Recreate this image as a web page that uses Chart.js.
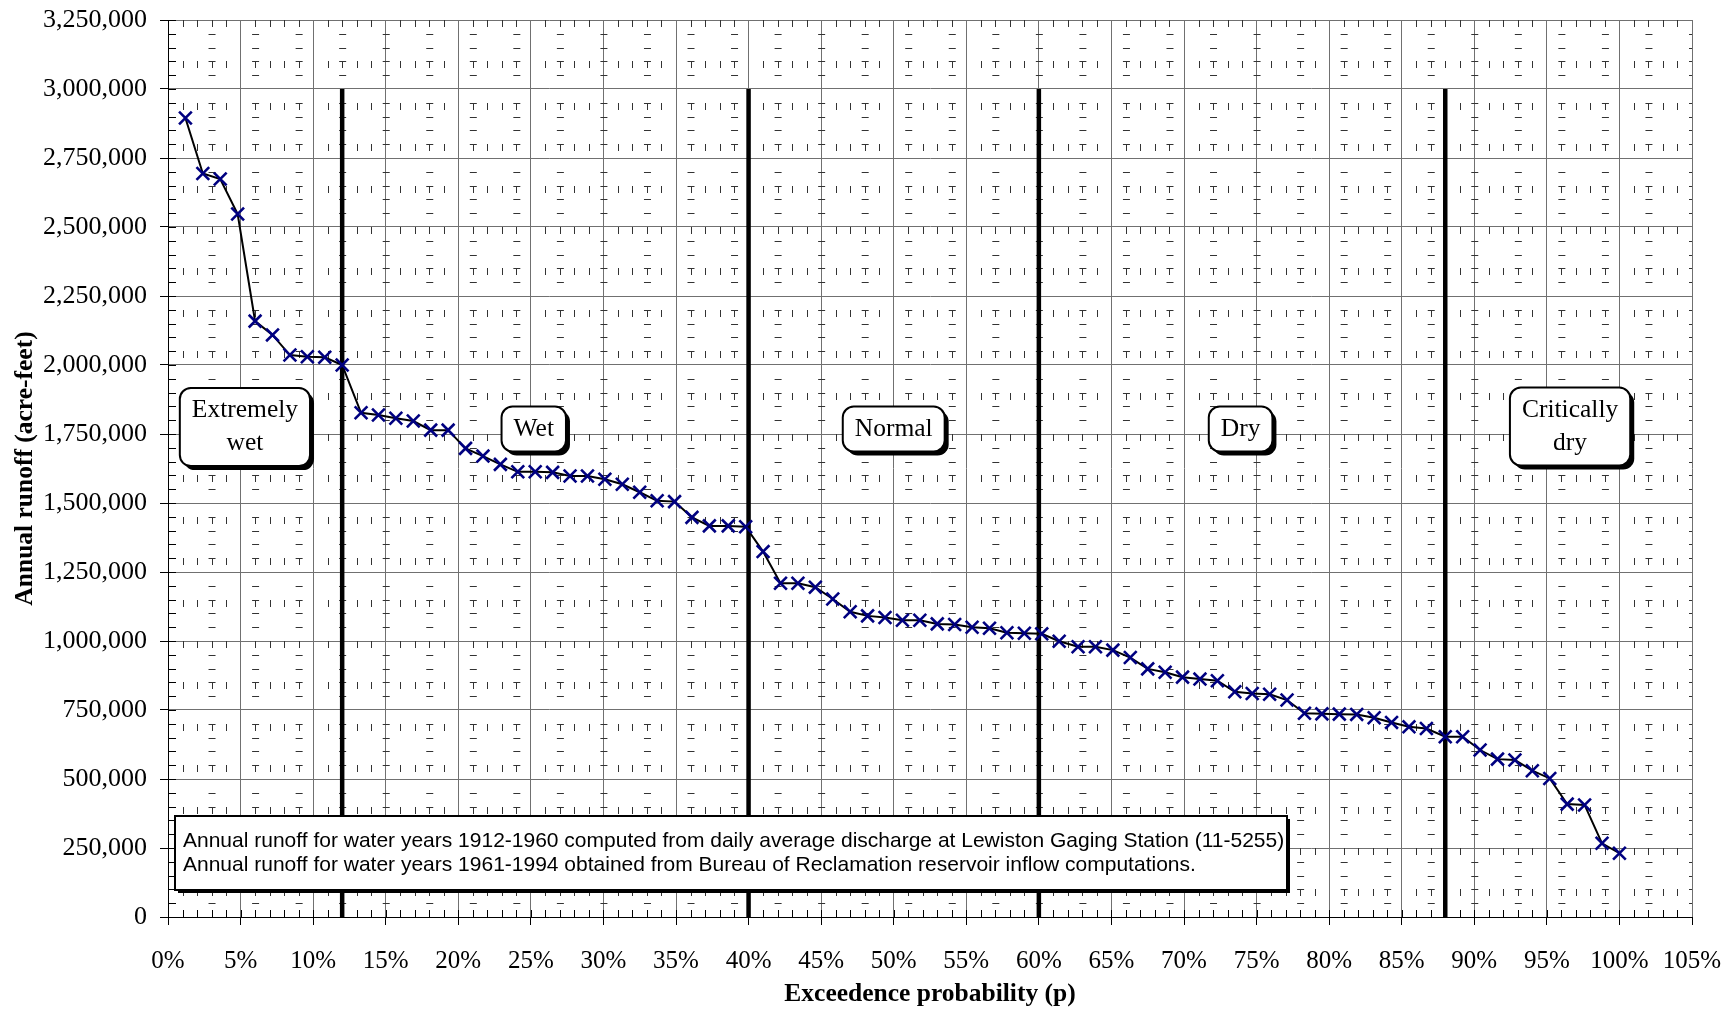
<!DOCTYPE html>
<html>
<head>
<meta charset="utf-8">
<script src="https://cdn.jsdelivr.net/npm/chart.js@4.4.1/dist/chart.umd.min.js"></script>
<style>
  html, body { margin: 0; padding: 0; background: #fff; }
  #wrap { width: 1734px; height: 1011px; }
</style>
</head>
<body>
<div id="wrap"><canvas id="runoffChart"></canvas></div>
<script>
// exceedence probability of each ranked water year (%)
var probability = [
  1.2, 2.4, 3.6, 4.8, 6.0, 7.2, 8.4, 9.6, 10.8, 12.0,
  13.3, 14.5, 15.7, 16.9, 18.1, 19.3, 20.5, 21.7, 22.9, 24.1,
  25.3, 26.5, 27.7, 28.9, 30.1, 31.3, 32.5, 33.7, 34.9, 36.1,
  37.3, 38.6, 39.8, 41.0, 42.2, 43.4, 44.6, 45.8, 47.0, 48.2,
  49.4, 50.6, 51.8, 53.0, 54.2, 55.4, 56.6, 57.8, 59.0, 60.2,
  61.4, 62.7, 63.9, 65.1, 66.3, 67.5, 68.7, 69.9, 71.1, 72.3,
  73.5, 74.7, 75.9, 77.1, 78.3, 79.5, 80.7, 81.9, 83.1, 84.3,
  85.5, 86.7, 88.0, 89.2, 90.4, 91.6, 92.8, 94.0, 95.2, 96.4,
  97.6, 98.8, 100.0
];

// annual runoff (acre-feet), wettest to driest
var runoff = [
  2895000, 2694000, 2674000, 2547000, 2159000, 2109000, 2036000, 2030000, 2028000, 2000000,
  1827000, 1819000, 1807000, 1797000, 1764000, 1764000, 1698000, 1670000, 1640000, 1613000,
  1613000, 1611000, 1598000, 1598000, 1586000, 1568000, 1539000, 1508000, 1505000, 1448000,
  1417000, 1417000, 1414000, 1324000, 1209000, 1209000, 1195000, 1152000, 1106000, 1091000,
  1085000, 1075000, 1075000, 1062000, 1060000, 1050000, 1046000, 1030000, 1028000, 1026000,
  999000, 979000, 979000, 967000, 940000, 899000, 887000, 869000, 862000, 856000,
  816000, 810000, 807000, 786000, 738000, 736000, 735000, 734000, 722000, 705000,
  689000, 683000, 653000, 653000, 605000, 572000, 569000, 530000, 502000, 409000,
  406000, 267000, 231000
];

// year-type class boundaries (%) and their top
var boundaries = [12, 40, 60, 88];
var boundaryTop = 3000000;

var yearTypes = [['Extremely', 'wet'], ['Wet'], ['Normal'], ['Dry'], ['Critically', 'dry']];

var noteLines = [
  'Annual runoff for water years 1912-1960 computed from daily average discharge at Lewiston Gaging Station (11-5255).',
  'Annual runoff for water years 1961-1994 obtained from Bureau of Reclamation reservoir inflow computations.'
];

// axis ranges
var xMax = 105, xStep = 5, xMinorStep = 1;
var yMax = 3250000, yStep = 250000, yMinorStep = 50000;

var serif = '"Liberation Serif", "Times New Roman", serif';

var datasets = [{
  label: 'Annual runoff',
  data: probability.map(function (p, i) { return { x: p, y: runoff[i] }; }),
  borderColor: '#000',
  borderWidth: 2,
  pointStyle: 'crossRot',
  pointRadius: 9,
  pointHoverRadius: 9,
  pointBorderColor: '#000080',
  pointBackgroundColor: '#000080',
  pointBorderWidth: 2.6,
  tension: 0
}];
boundaries.forEach(function (b) {
  datasets.push({
    label: 'boundary ' + b,
    data: [{ x: b, y: 0 }, { x: b, y: boundaryTop }],
    borderColor: '#000',
    borderWidth: 4.5,
    pointRadius: 0,
    pointHoverRadius: 0
  });
});

// dashed minor grid plus inside minor ticks
var minorGrid = {
  id: 'minorGrid',
  beforeDatasetsDraw: function (chart) {
    var ctx = chart.ctx, xs = chart.scales.x, ys = chart.scales.y, a = chart.chartArea;
    ctx.save();
    ctx.beginPath();
    ctx.rect(a.left, a.top, a.right - a.left, a.bottom - a.top);
    ctx.clip();
    ctx.strokeStyle = '#333';
    ctx.lineWidth = 1;
    ctx.beginPath();
    var p, v, x, y;
    for (p = xMinorStep; p < xMax; p += xMinorStep) {
      if (p % xStep === 0) continue;
      x = Math.round(xs.getPixelForValue(p)) + 0.5;
      for (v = -50000; v <= yMax + 150000; v += 150000) {
        y = Math.round(ys.getPixelForValue(v));
        ctx.moveTo(x, y); ctx.lineTo(x, y + 7);
      }
    }
    for (v = yMinorStep; v < yMax; v += yMinorStep) {
      if (v % yStep === 0) continue;
      y = Math.round(ys.getPixelForValue(v)) + 0.5;
      for (p = 0; p <= xMax; p += 3) {
        x = xs.getPixelForValue(p);
        ctx.moveTo(x - 3, y); ctx.lineTo(x + 4, y);
      }
    }
    ctx.stroke();

    ctx.strokeStyle = '#000';
    ctx.beginPath();
    for (p = 0; p <= xMax; p += xMinorStep) {
      x = Math.round(xs.getPixelForValue(p)) + 0.5;
      ctx.moveTo(x, a.bottom); ctx.lineTo(x, a.bottom - 7);
    }
    for (v = 0; v <= yMax; v += yMinorStep) {
      y = Math.round(ys.getPixelForValue(v)) + 0.5;
      ctx.moveTo(a.left, y); ctx.lineTo(a.left + 8, y);
    }
    ctx.stroke();
    ctx.restore();
  }
};

// rounded year-type boxes and the source note
var boxes = {
  id: 'boxes',
  afterDatasetsDraw: function (chart, args, opts) {
    var ctx = chart.ctx, xs = chart.scales.x, ys = chart.scales.y, a = chart.chartArea;
    ctx.save();

    ctx.font = '25.5px ' + serif;
    ctx.textAlign = 'center';
    ctx.textBaseline = 'middle';
    yearTypes.forEach(function (lines, i) {
      var cx = xs.getPixelForValue(opts.anchors[i].x);
      var cy = ys.getPixelForValue(opts.anchors[i].y);
      var w = Math.max.apply(null, lines.map(function (t) { return ctx.measureText(t).width; })) + 24;
      var h = 12 + 33 * lines.length;
      var x0 = cx - w / 2, y0 = cy - h / 2;
      ctx.fillStyle = '#000';
      ctx.beginPath(); ctx.roundRect(x0 + 4, y0 + 4, w, h, 11); ctx.fill();
      ctx.fillStyle = '#fff';
      ctx.beginPath(); ctx.roundRect(x0, y0, w, h, 11); ctx.fill();
      ctx.lineWidth = 2; ctx.strokeStyle = '#000'; ctx.stroke();
      ctx.fillStyle = '#000';
      lines.forEach(function (t, k) {
        ctx.fillText(t, cx, cy + (k - (lines.length - 1) / 2) * 33);
      });
    });

    // note box
    var nx = a.left + 7, nw = 1112, nh = 74, ny = a.bottom - 27 - nh;
    ctx.fillStyle = '#000';
    ctx.fillRect(nx + 3, ny + 3, nw, nh);
    ctx.fillStyle = '#fff';
    ctx.fillRect(nx, ny, nw, nh);
    ctx.lineWidth = 2; ctx.strokeStyle = '#000';
    ctx.strokeRect(nx, ny, nw, nh);
    ctx.fillStyle = '#000';
    ctx.font = '21px "Liberation Sans", Arial, sans-serif';
    ctx.textAlign = 'left';
    noteLines.forEach(function (t, k) {
      ctx.fillText(t, nx + 8, ny + nh / 2 + (k - 0.5) * 24);
    });
    ctx.restore();
  }
};

new Chart(document.getElementById('runoffChart'), {
  type: 'line',
  data: { datasets: datasets },
  plugins: [minorGrid, boxes],
  options: {
    responsive: true,
    maintainAspectRatio: false,
    animation: false,
    layout: { padding: { top: 20, right: 42, left: 0, bottom: 0 } },
    plugins: {
      legend: { display: false },
      tooltip: { enabled: false },
      boxes: {
        anchors: [
          { x: 5.3, y: 1775000 },
          { x: 25.2, y: 1768000 },
          { x: 50.0, y: 1768000 },
          { x: 73.9, y: 1768000 },
          { x: 96.6, y: 1777000 }
        ]
      }
    },
    scales: {
      x: {
        type: 'linear',
        min: 0,
        max: xMax,
        afterFit: function (s) {
          s.height = 94;
          s.paddingLeft = 0; s.paddingRight = 0;
        },
        ticks: {
          stepSize: xStep,
          color: '#000',
          padding: 21,
          maxRotation: 0,
          font: { family: serif, size: 25 },
          callback: function (v) { return v + '%'; }
        },
        grid: { color: '#707070', lineWidth: 1, tickLength: 8, tickColor: '#000' },
        border: { color: '#000', width: 1 },
        title: {
          display: true,
          text: 'Exceedence probability (p)',
          color: '#000',
          font: { family: serif, size: 25.5, weight: 'bold' },
          padding: { top: 0, bottom: 1 }
        }
      },
      y: {
        min: 0,
        max: yMax,
        afterFit: function (s) {
          s.width = 168;
          s.paddingTop = 0; s.paddingBottom = 0;
        },
        ticks: {
          stepSize: yStep,
          color: '#000',
          padding: 13,
          font: { family: serif, size: 26 },
          callback: function (v) { return v.toLocaleString('en-US'); }
        },
        grid: { color: '#707070', lineWidth: 1, tickLength: 8, tickColor: '#000' },
        border: { color: '#000', width: 1 },
        title: {
          display: true,
          text: 'Annual runoff (acre-feet)',
          color: '#000',
          font: { family: serif, size: 25.5, weight: 'bold' },
          padding: { top: 10, bottom: 0 }
        }
      }
    }
  }
});
</script>
</body>
</html>
